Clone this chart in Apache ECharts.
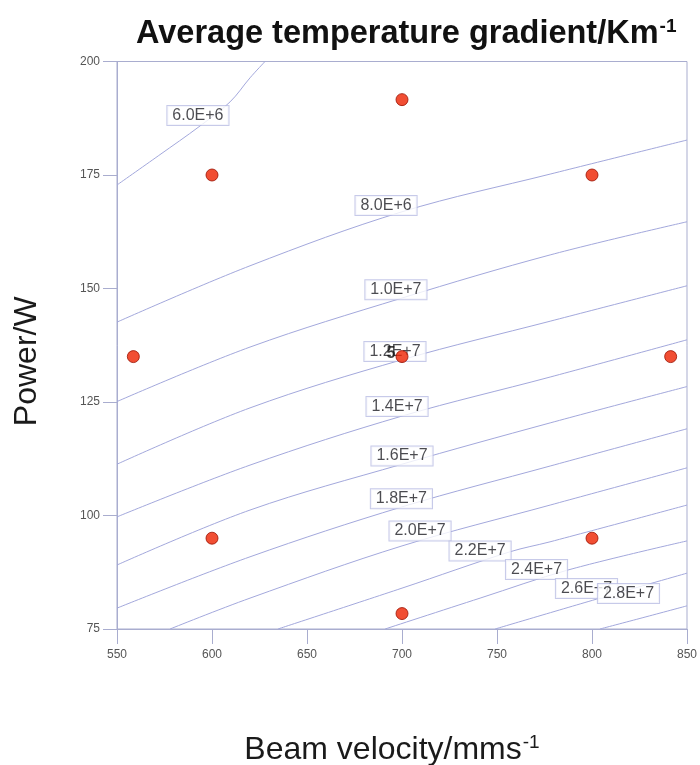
<!DOCTYPE html>
<html>
<head>
<meta charset="utf-8">
<title>Average temperature gradient</title>
<script src="https://cdn.jsdelivr.net/npm/echarts@6/dist/echarts.min.js"></script>
<style>
  html, body { margin: 0; padding: 0; background: #fff; overflow: hidden; }
  #chart { width: 700px; height: 765px; }
</style>
</head>
<body>
<div id="chart"></div>
<script>
// Design points (beam velocity in mm/s, power in W) and run counts
const velocity = [558.6, 600, 600, 700, 700, 700, 800, 800, 841.4];
const power    = [135,   175, 95,  191.6, 135, 78.4, 175, 95, 135];
const replicates = [1, 1, 1, 1, 5, 1, 1, 1, 1];

// Contour levels of the average temperature gradient (K/m)
const contourLevels = ['6.0E+6', '8.0E+6', '1.0E+7', '1.2E+7', '1.4E+7', '1.6E+7',
                       '1.8E+7', '2.0E+7', '2.2E+7', '2.4E+7', '2.6E+7', '2.8E+7'];

// Contour paths as [velocity, power] points
const contour6e6  = [[550, 172.8], [572, 179.3], [593.7, 185.8], [609.5, 191.1], [620, 196.4], [627.9, 200]];
const contour8e6  = [[550, 142.6], [620, 155.0], [700, 166.9], [778, 175.2], [850, 182.7]];
const contour1e7  = [[550, 125.1], [620, 137.1], [700, 147.9], [778, 157.4], [850, 164.7]];
const contour12e6 = [[550, 111.3], [620, 123.7], [700, 134.3], [778, 142.8], [850, 150.6]];
const contour14e6 = [[550, 99.7],  [620, 111.1], [700, 121.9], [778, 130.5], [850, 138.7]];
const contour16e6 = [[550, 89.1],  [620, 101.2], [700, 111.3], [778, 120.4], [850, 128.4]];
const contour18e6 = [[550, 79.6],  [620, 90.9],  [700, 101.9], [778, 110.9], [850, 119.1]];
const contour2e7  = [[577.9, 75],  [620, 81.8],  [700, 93.3],  [778, 102.3], [850, 110.5]];
const contour22e6 = [[634.7, 75],  [700, 84.0],  [756.8, 92.0], [777.9, 94.2], [850, 102.3]];
const contour24e6 = [[691.1, 75],  [741.1, 81.8], [787.4, 88.0], [850, 94.4]];
const contour26e6 = [[749.0, 75],  [804.2, 81.8], [850, 87.3]];
const contour28e6 = [[804.2, 75],  [826.8, 77.5], [850, 80.1]];

const contourPaths = [contour6e6, contour8e6, contour1e7, contour12e6, contour14e6, contour16e6,
                      contour18e6, contour2e7, contour22e6, contour24e6, contour26e6, contour28e6];

// Where each contour level is annotated, in axis units
const contourLabelAt = [[592.6, 188.1], [691.6, 168.3], [696.8, 149.7], [696.3, 136.1],
                        [697.4, 124.0], [700, 113.1], [699.7, 103.7], [709.5, 96.6],
                        [741.1, 92.2], [770.8, 88.1], [797.1, 83.9], [819.2, 82.8]];

// Axis ranges and ticks
const xRange = [550, 850], xStep = 50;
const yRange = [75, 200], yStep = 25;

const FONT = "'Liberation Sans', Arial, Helvetica, sans-serif";
const frameColor = '#a9adcf';
const lineColor = '#a3a8dc';

const chart = echarts.init(document.getElementById('chart'), null, { renderer: 'canvas' });

const lineSeries = contourPaths.map((path, i) => ({
  name: contourLevels[i],
  type: 'line',
  data: path,
  smooth: 0.35,
  showSymbol: false,
  silent: true,
  z: 2,
  lineStyle: { color: lineColor, width: 1 }
}));

const labelSeries = {
  type: 'scatter',
  silent: true,
  z: 3,
  symbolSize: 0,
  data: contourLabelAt.map((p, i) => ({ value: p, name: contourLevels[i] })),
  label: {
    show: true,
    position: 'inside',
    formatter: (p) => p.name,
    fontFamily: FONT,
    fontSize: 16,
    color: '#1e1e24',
    backgroundColor: '#ffffff',
    borderColor: '#b9bde3',
    borderWidth: 1,
    padding: [2, 5, 1, 5]
  },
  labelLayout: { hideOverlap: false }
};

const pointSeries = {
  type: 'scatter',
  silent: true,
  z: 4,
  symbol: 'circle',
  symbolSize: 12,
  itemStyle: { color: '#ee2200', borderColor: '#9a1000', borderWidth: 1 },
  data: velocity.map((v, i) => ({
    value: [v, power[i]],
    label: replicates[i] > 1 ? {
      show: true,
      formatter: String(replicates[i]),
      position: [-9, -5],
      fontFamily: FONT,
      fontSize: 16,
      fontWeight: 'bold',
      color: '#111'
    } : { show: false }
  }))
};

chart.setOption({
  animation: false,
  backgroundColor: '#ffffff',
  title: {
    text: 'Average temperature gradient/Km{sup|-1}',
    left: 131,
    top: 12,
    textStyle: {
      fontFamily: FONT,
      fontSize: 32.5,
      fontWeight: 'bold',
      color: '#111',
      rich: {
        sup: { fontFamily: FONT, fontSize: 19, fontWeight: 'bold', color: '#111', padding: [0, 0, 16, 1] }
      }
    }
  },
  grid: {
    left: 117, right: 13, top: 61.5, bottom: 136,
    containLabel: false,
    outerBoundsMode: 'none',
    show: true, borderColor: frameColor, borderWidth: 1, backgroundColor: 'transparent'
  },
  xAxis: {
    type: 'value',
    min: xRange[0], max: xRange[1], interval: xStep,
    name: 'Beam velocity/mms{sup|-1}',
    nameLocation: 'middle',
    nameGap: 104,
    nameTextStyle: {
      fontFamily: FONT, fontSize: 32, color: '#1a1a1a', padding: [0, 20, 0, 0],
      rich: { sup: { fontFamily: FONT, fontSize: 19, color: '#1a1a1a', padding: [0, 0, 16, 1] } }
    },
    axisLine: { show: true, lineStyle: { color: frameColor, width: 1 } },
    axisTick: { show: true, inside: false, length: 15, lineStyle: { color: frameColor } },
    axisLabel: { fontFamily: FONT, fontSize: 12, color: '#555', margin: 20 },
    splitLine: { show: false }
  },
  yAxis: {
    type: 'value',
    min: yRange[0], max: yRange[1], interval: yStep,
    name: 'Power/W',
    nameLocation: 'middle',
    nameGap: 74,
    nameTextStyle: { fontFamily: FONT, fontSize: 32, color: '#1a1a1a', padding: [0, 32, 0, 0] },
    axisLine: { show: true, lineStyle: { color: frameColor, width: 1 } },
    axisTick: { show: true, inside: false, length: 14, lineStyle: { color: frameColor } },
    axisLabel: { fontFamily: FONT, fontSize: 12, color: '#555', margin: 17 },
    splitLine: { show: false }
  },
  series: [...lineSeries, labelSeries, pointSeries]
});
</script>
</body>
</html>
